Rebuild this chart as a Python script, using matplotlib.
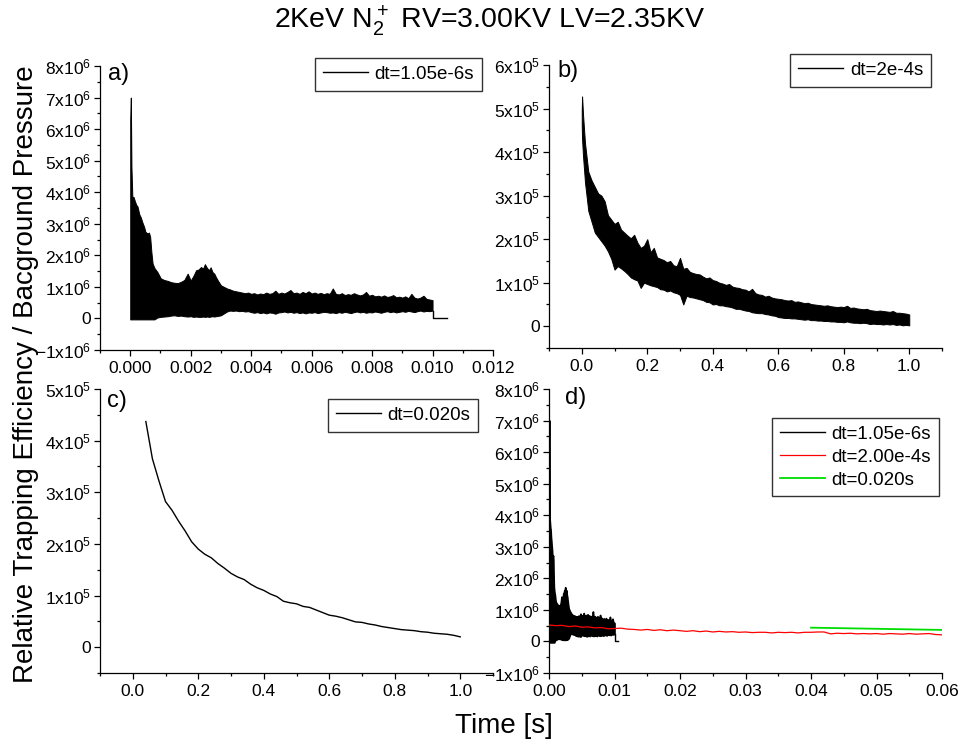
import numpy as np
import matplotlib
matplotlib.use("Agg")
import matplotlib.pyplot as plt
from matplotlib.ticker import MultipleLocator, FuncFormatter

plt.rcParams['font.family'] = ['Liberation Sans', 'DejaVu Sans']
plt.rcParams['mathtext.fontset'] = 'custom'
plt.rcParams['mathtext.rm'] = 'Liberation Sans'
plt.rcParams['path.simplify'] = False

# ---- dt = 1.05e-6 s record: envelope of the fast oscillation (units of 1e6) ----
# first 3 ms (irregular time grid around the initial spike)
a_t_early = [0.00000, 0.00002, 0.00004, 0.00007, 0.00011, 0.00016, 0.00020, 0.00024,
             0.00030, 0.00035, 0.00040, 0.00046, 0.00050, 0.00057, 0.00062, 0.00066,
             0.00070, 0.00074, 0.00080, 0.00090, 0.00101, 0.00112, 0.00124, 0.00135,
             0.00146, 0.00157, 0.00168, 0.00179, 0.00190, 0.00200, 0.00209, 0.00218,
             0.00226, 0.00234, 0.00241, 0.00247, 0.00254, 0.00261, 0.00266, 0.00272,
             0.00278, 0.00283, 0.00290]
a_hi_early = [6.30, 7.00, 4.80, 3.85, 3.85, 3.70, 3.60, 3.55,
              3.30, 3.20, 3.05, 2.90, 2.75, 2.69, 2.72, 2.58,
              2.10, 1.74, 1.60, 1.47, 1.27, 1.22, 1.19, 1.15,
              1.13, 1.12, 1.16, 1.22, 1.42, 1.20, 1.35, 1.53,
              1.55, 1.63, 1.58, 1.72, 1.60, 1.53, 1.62, 1.47,
              1.42, 1.32, 1.20]
a_lo_early = [-0.03, -0.03, -0.03, -0.03, -0.03, -0.03, -0.03, -0.03,
              -0.03, -0.03, -0.03, -0.03, -0.03, -0.03, -0.03, -0.03,
              -0.03, -0.03, -0.03, 0.03, 0.05, 0.06, 0.07, 0.09,
              0.10, 0.08, 0.09, 0.07, 0.06, 0.07, 0.05, 0.06,
              0.05, 0.05, 0.06, 0.05, 0.06, 0.05, 0.06, 0.07,
              0.06, 0.07, 0.08]
# 3 ms .. 10 ms on a 0.1 ms grid
a_t_late = [round(0.0030 + 0.0001 * i, 4) for i in range(71)]
a_hi_late = [1.05, 1.00, 0.95, 0.92, 0.88, 0.86, 0.84, 0.82, 0.80, 0.82,
             0.78, 0.80, 0.76, 0.79, 0.77, 0.82, 0.78, 0.80, 0.88, 0.78,
             0.82, 0.79, 0.84, 0.90, 0.80, 0.82, 0.78, 0.84, 0.80, 0.86,
             0.79, 0.82, 0.78, 0.81, 0.77, 0.80, 0.78, 0.95, 0.78, 0.76,
             0.80, 0.74, 0.77, 0.75, 0.80, 0.76, 0.73, 0.76, 0.84, 0.72,
             0.75, 0.70, 0.72, 0.69, 0.73, 0.68, 0.70, 0.74, 0.67, 0.69,
             0.66, 0.70, 0.64, 0.78, 0.66, 0.63, 0.66, 0.72, 0.62, 0.60,
             0.58]
a_lo_late = [0.10, 0.16, 0.22, 0.25, 0.24, 0.25, 0.23, 0.24, 0.22, 0.23,
             0.20, 0.18, 0.20, 0.17, 0.19, 0.16, 0.19, 0.18, 0.15, 0.19,
             0.20, 0.22, 0.19, 0.21, 0.18, 0.20, 0.17, 0.19, 0.16, 0.19,
             0.18, 0.20, 0.17, 0.19, 0.21, 0.20, 0.18, 0.19, 0.17, 0.20,
             0.18, 0.21, 0.19, 0.17, 0.20, 0.22, 0.19, 0.21, 0.18, 0.20,
             0.19, 0.22, 0.20, 0.18, 0.21, 0.23, 0.20, 0.22, 0.19, 0.21,
             0.23, 0.21, 0.24, 0.22, 0.20, 0.23, 0.25, 0.22, 0.24, 0.23,
             0.25]
# signal returns to zero after the acquisition window
a_tail_t = [0.01000, 0.01000, 0.01047]
a_tail_v = [0.25, 0.00, 0.00]

# ---- dt = 2e-4 s record: envelope (units of 1e5) ----
b_t = [0.000, 0.001, 0.004, 0.007] + [round(0.01 * i, 2) for i in range(1, 101)]
b_hi = [4.95, 5.28, 4.85, 4.52,
        4.20, 3.55, 3.35, 3.20, 3.05, 3.00, 2.87, 2.55, 2.45, 2.35,
        2.40, 2.22, 2.15, 2.08, 2.02, 2.10, 1.92, 1.80, 1.85, 2.00,
        1.70, 1.80, 1.58, 1.55, 1.52, 1.47, 1.50, 1.40, 1.38, 1.57,
        1.32, 1.34, 1.25, 1.22, 1.20, 1.19, 1.14, 1.10, 1.12, 1.06,
        1.04, 1.00, 0.98, 0.95, 0.97, 0.91, 0.89, 0.88, 0.85, 0.84,
        0.80, 0.86, 0.76, 0.73, 0.72, 0.68, 0.70, 0.66, 0.64, 0.63,
        0.62, 0.60, 0.59, 0.60, 0.56, 0.57, 0.55, 0.53, 0.54, 0.51,
        0.50, 0.49, 0.48, 0.47, 0.48, 0.46, 0.45, 0.44, 0.45, 0.44,
        0.47, 0.42, 0.43, 0.41, 0.40, 0.39, 0.40, 0.37, 0.36, 0.35,
        0.36, 0.35, 0.34, 0.33, 0.35, 0.31, 0.31, 0.30, 0.29, 0.27]
b_lo = [4.60, 4.30, 3.90, 3.60,
        3.30, 2.65, 2.40, 2.15, 2.05, 1.95, 1.85, 1.72, 1.55, 1.30,
        1.38, 1.33, 1.27, 1.20, 1.12, 1.08, 1.05, 0.88, 1.00, 0.97,
        0.94, 0.92, 0.90, 0.85, 0.84, 0.80, 0.82, 0.78, 0.76, 0.72,
        0.50, 0.70, 0.67, 0.66, 0.64, 0.62, 0.60, 0.56, 0.55, 0.50,
        0.51, 0.48, 0.48, 0.46, 0.45, 0.43, 0.40, 0.40, 0.38, 0.36,
        0.35, 0.32, 0.31, 0.30, 0.30, 0.28, 0.27, 0.25, 0.24, 0.21,
        0.20, 0.19, 0.19, 0.18, 0.18, 0.17, 0.16, 0.15, 0.16, 0.14,
        0.14, 0.13, 0.13, 0.12, 0.12, 0.11, 0.11, 0.10, 0.10, 0.09,
        0.11, 0.09, 0.08, 0.08, 0.07, 0.08, 0.07, 0.05, 0.06, 0.05,
        0.05, 0.04, 0.05, 0.04, 0.05, 0.03, 0.04, 0.02, 0.03, 0.02]

# first 60 ms of the dt = 2e-4 s record (units of 1e6)
red_t = [round(0.001 * i, 3) for i in range(61)]
red_v = [0.52, 0.50, 0.51, 0.47, 0.49, 0.45, 0.46, 0.43, 0.44, 0.40,
         0.41, 0.42, 0.39, 0.38, 0.36, 0.38, 0.35, 0.37, 0.34, 0.36,
         0.34, 0.32, 0.34, 0.31, 0.33, 0.30, 0.32, 0.30, 0.31, 0.29,
         0.30, 0.28, 0.29, 0.29, 0.27, 0.29, 0.28, 0.29, 0.27, 0.29,
         0.29, 0.30, 0.30, 0.24, 0.26, 0.25, 0.26, 0.24, 0.25, 0.24,
         0.25, 0.23, 0.25, 0.24, 0.23, 0.25, 0.23, 0.24, 0.25, 0.22,
         0.21]

# ---- dt = 0.020 s record (units of 1e5) ----
c_t = [round(0.04 + 0.02 * i, 2) for i in range(49)]
c_v = [4.37, 3.65, 3.22, 2.82, 2.65, 2.44, 2.25, 2.04, 1.90, 1.80,
       1.73, 1.62, 1.53, 1.43, 1.36, 1.31, 1.22, 1.15, 1.10, 1.03,
       0.98, 0.89, 0.86, 0.84, 0.79, 0.77, 0.72, 0.67, 0.62, 0.60,
       0.57, 0.53, 0.49, 0.48, 0.45, 0.43, 0.40, 0.38, 0.36, 0.34,
       0.33, 0.32, 0.30, 0.29, 0.27, 0.26, 0.25, 0.23, 0.20]

title = r'2KeV $\mathregular{N_2^+}$ RV=3.00KV LV=2.35KV'
ylabel = 'Relative Trapping Efficiency / Bacground Pressure'
xlabel = 'Time [s]'

W, H = 964, 746
fig = plt.figure(figsize=(W / 100, H / 100), dpi=100)


def px_axes(l, t, r, b):
    return fig.add_axes([l / W, 1 - b / H, (r - l) / W, (b - t) / H])


def sci(v, pos):
    if abs(v) < 1e-9:
        return '0'
    e = int(np.floor(np.log10(abs(v)) + 1e-9))
    m = int(round(v / 10 ** e))
    return r'$\mathregular{%dx10^{%d}}$' % (m, e)


def style(ax, xmaj, xmin, ymaj, ymin, xfmt):
    for s in ('top', 'right'):
        ax.spines[s].set_visible(False)
    for s in ('left', 'bottom'):
        ax.spines[s].set_linewidth(0.9)
    ax.xaxis.set_major_locator(MultipleLocator(xmaj))
    ax.xaxis.set_minor_locator(MultipleLocator(xmin))
    ax.yaxis.set_major_locator(MultipleLocator(ymaj))
    ax.yaxis.set_minor_locator(MultipleLocator(ymin))
    ax.xaxis.set_major_formatter(FuncFormatter(lambda v, p: xfmt % v))
    ax.yaxis.set_major_formatter(FuncFormatter(sci))
    ax.tick_params(which='major', direction='out', length=4, width=0.9,
                   labelsize=12.5, pad=2.5)
    ax.tick_params(which='minor', direction='out', length=2.2, width=0.9)
    ax.tick_params(axis='x', which='major', pad=4)


def legend(ax, handles, labels, right, top, fs=13.5, spacing=0.15):
    lg = ax.legend(handles, labels, loc='upper right',
                   bbox_to_anchor=(right / W, 1 - top / H),
                   bbox_transform=fig.transFigure, borderaxespad=0,
                   fontsize=fs, frameon=True, fancybox=False,
                   handlelength=2.4, handletextpad=0.35, borderpad=0.42,
                   labelspacing=spacing)
    lg.get_frame().set_edgecolor('black')
    lg.get_frame().set_linewidth(1.0)
    return lg


def panel_tag(ax, s, x, y):
    ax.text(x / W, 1 - y / H, s, transform=fig.transFigure, fontsize=17,
            ha='left', va='top')


E6, E5 = 1e6, 1e5
at = np.array(a_t_early + a_t_late)
ahi = np.array(a_hi_early + a_hi_late) * E6
alo = np.array(a_lo_early + a_lo_late) * E6
tail_t = np.array(a_tail_t)
tail_v = np.array(a_tail_v) * E6

# a) fast record
ax_a = px_axes(100, 66, 493, 350)
ax_a.fill_between(at, alo, ahi, color='black', lw=0.7, edgecolor='black')
h_a, = ax_a.plot(tail_t, tail_v, color='black', lw=1.0)
ax_a.set_xlim(-0.001, 0.012)
ax_a.set_ylim(-1e6, 8e6)
style(ax_a, 0.002, 0.001, 1e6, 0.5e6, '%.3f')
legend(ax_a, [h_a], ['dt=1.05e-6s'], 482, 58)
panel_tag(ax_a, 'a)', 108, 63)

# b) medium record
ax_b = px_axes(549, 65, 942, 348)
ax_b.fill_between(np.array(b_t), np.array(b_lo) * E5, np.array(b_hi) * E5,
                  color='black', lw=0.7, edgecolor='black')
h_b, = ax_b.plot([], [], color='black', lw=1.0)
ax_b.set_xlim(-0.1, 1.1)
ax_b.set_ylim(-0.5e5, 6e5)
style(ax_b, 0.2, 0.1, 1e5, 0.5e5, '%.1f')
legend(ax_b, [h_b], ['dt=2e-4s'], 931, 54)
panel_tag(ax_b, 'b)', 557, 60)

# c) slow record
ax_c = px_axes(100, 389, 493, 673)
h_c, = ax_c.plot(c_t, np.array(c_v) * E5, color='black', lw=1.0)
ax_c.set_xlim(-0.1, 1.1)
ax_c.set_ylim(-0.5e5, 5e5)
style(ax_c, 0.2, 0.1, 1e5, 0.5e5, '%.1f')
legend(ax_c, [h_c], ['dt=0.020s'], 478, 399)
panel_tag(ax_c, 'c)', 107, 390)

# d) all three records on a common time axis
ax_d = px_axes(549, 389, 942, 673)
ax_d.fill_between(at, alo, ahi, color='black', lw=1.2, edgecolor='black',
                  zorder=3)
# leading edge of the fast record, stroked so the initial spike stays visible
ax_d.plot(at[:3], ahi[:3], color='black', lw=1.6, zorder=3,
          solid_capstyle='butt')
ax_d.plot([at[0], at[0]], [alo[0], ahi[0]], color='black', lw=1.6, zorder=3)
h_d1, = ax_d.plot(tail_t, tail_v, color='black', lw=1.0)
h_d2, = ax_d.plot(red_t, np.array(red_v) * E6, color='red', lw=0.9, zorder=4)
h_d3, = ax_d.plot(c_t, np.array(c_v) * E5, color='#00dd00', lw=1.3)
ax_d.set_xlim(0, 0.06)
ax_d.set_ylim(-1e6, 8e6)
style(ax_d, 0.01, 0.005, 1e6, 0.5e6, '%.2f')
legend(ax_d, [h_d1, h_d2, h_d3], ['dt=1.05e-6s', 'dt=2.00e-4s', 'dt=0.020s'],
       939, 418, spacing=0.3)
panel_tag(ax_d, 'd)', 565, 387)

fig.text(490 / W, 1 - 28 / H, title, ha='center', va='baseline', fontsize=20.5)
fig.text(13 / W, 1 - 374 / H, ylabel, rotation=90, ha='left', va='center',
         fontsize=20)
fig.text(504 / W, 1 - 733 / H, xlabel, ha='center', va='baseline', fontsize=20)

fig.savefig('out.png', dpi=100)
